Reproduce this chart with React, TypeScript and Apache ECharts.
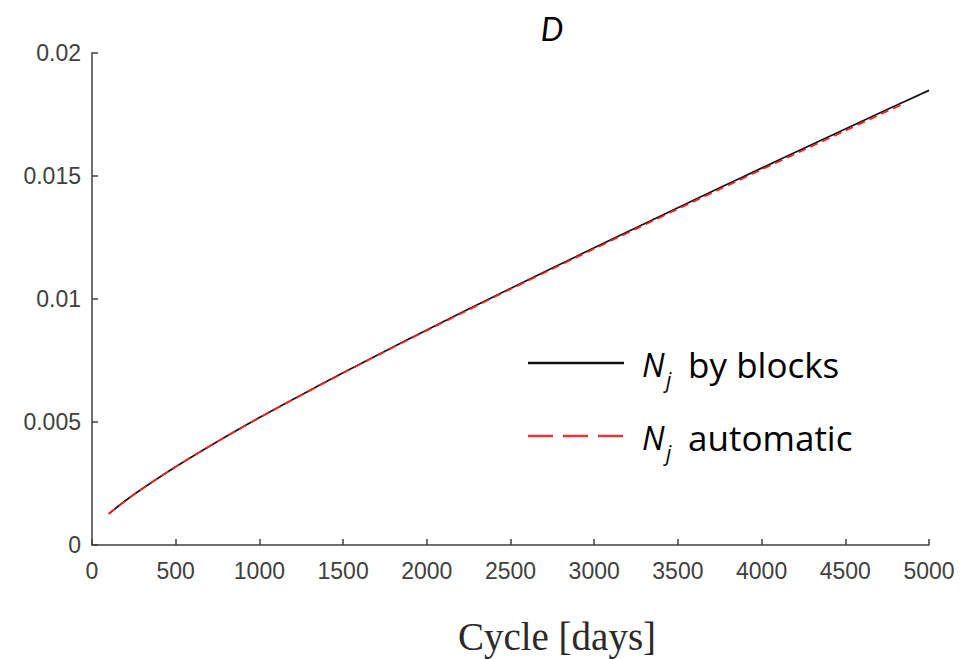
import React, { useEffect, useRef } from "react";
import * as echarts from "echarts";

const titleText = "D";
const xAxisTitle = "Cycle [days]";

const blocksDays = [100, 250, 500, 750, 1000, 1250, 1500, 1750, 2000, 2250, 2500, 2750, 3000, 3250, 3500, 3750, 4000, 4250, 4500, 4750, 5000];
const blocksValues = [0.00127, 0.00205, 0.00318, 0.00421, 0.00518, 0.0061, 0.007, 0.00788, 0.00874, 0.00959, 0.01043, 0.01126, 0.01208, 0.0129, 0.01371, 0.01452, 0.01532, 0.01612, 0.01691, 0.0177, 0.01848];

const automaticDays = [100, 250, 500, 750, 1000, 1250, 1500, 1750, 2000, 2250, 2500, 2750, 3000, 3250, 3500, 3750, 4000, 4250, 4500, 4750, 4850];
const automaticValues = [0.00127, 0.00205, 0.00318, 0.00421, 0.00517, 0.00609, 0.00699, 0.00786, 0.00872, 0.00956, 0.0104, 0.01122, 0.01204, 0.01285, 0.01366, 0.01446, 0.01526, 0.01605, 0.01684, 0.01763, 0.01794];

const seriesNames = ["N_j by blocks", "N_j automatic"];
const legendSymbol = "N";
const legendSub = "j";
const legendRest = [" by blocks", " automatic"];
const seriesColors = ["#111111", "#ff1f1f"];
const legendColors = ["#111111", "#e8353b"];

export default function App() {
  const ref = useRef<HTMLDivElement>(null);
  useEffect(() => {
    if (!ref.current) return;
    const chart = echarts.init(ref.current, null, { renderer: "svg" });
    const tickColor = "#404040";
    const legendY = [363, 436];
    const legendGraphics: any[] = [];
    legendY.forEach((y, i) => {
      legendGraphics.push({
        type: "line",
        shape: { x1: 528, y1: y, x2: 624, y2: y },
        style: {
          stroke: legendColors[i],
          lineWidth: 2.5,
          lineDash: i === 1 ? [25, 10] : null,
        },
      });
      legendGraphics.push({
        type: "text",
        x: 642,
        y: y + 1,
        style: {
          text: legendSymbol,
          font: "italic 32px 'Open Sans'",
          fill: "#000",
          textVerticalAlign: "middle",
        },
      });
      legendGraphics.push({
        type: "text",
        x: 666,
        y: y + 17,
        style: {
          text: legendSub,
          font: "italic 21px 'Open Sans'",
          fill: "#000",
          textVerticalAlign: "middle",
        },
      });
      legendGraphics.push({
        type: "text",
        x: 679,
        y: y + 1,
        style: {
          text: legendRest[i],
          font: "35px 'Open Sans'",
          fill: "#000",
          textVerticalAlign: "middle",
        },
      });
    });

    chart.setOption({
      animation: false,
      backgroundColor: "#ffffff",
      grid: { left: 92, right: 37, top: 53, bottom: 114, containLabel: false },
      xAxis: {
        type: "value",
        min: 0,
        max: 5000,
        interval: 500,
        axisLine: { show: true, lineStyle: { color: tickColor, width: 1.5 } },
        axisTick: { show: true, inside: true, length: 6, lineStyle: { color: tickColor, width: 1.5 } },
        axisLabel: {
          color: tickColor,
          fontSize: 23,
          fontFamily: "Liberation Sans",
          margin: 14,
          formatter: (v: number) => String(v),
        },
        splitLine: { show: false },
      },
      yAxis: {
        type: "value",
        min: 0,
        max: 0.02,
        interval: 0.005,
        axisLine: { show: true, lineStyle: { color: tickColor, width: 1.5 } },
        axisTick: { show: true, inside: true, length: 6, lineStyle: { color: tickColor, width: 1.5 } },
        axisLabel: {
          color: tickColor,
          fontSize: 23,
          fontFamily: "Liberation Sans",
          margin: 11,
          formatter: (v: number) => String(Number(v.toFixed(4))),
        },
        splitLine: { show: false },
      },
      series: [
        {
          name: seriesNames[0],
          type: "line",
          data: blocksDays.map((d, i) => [d, blocksValues[i]]),
          showSymbol: false,
          smooth: 0.3,
          lineStyle: { color: seriesColors[0], width: 1.7 },
          z: 2,
        },
        {
          name: seriesNames[1],
          type: "line",
          data: automaticDays.map((d, i) => [d, automaticValues[i]]),
          showSymbol: false,
          smooth: 0.3,
          lineStyle: { color: seriesColors[1], width: 1.7, type: [8, 5] },
          z: 3,
        },
      ],
      graphic: [
        {
          type: "text",
          x: 552,
          y: 28,
          style: {
            text: titleText,
            font: "italic 32px Lato",
            fill: "#000",
            textAlign: "center",
            textVerticalAlign: "middle",
          },
        },
        {
          type: "text",
          x: 557,
          y: 636,
          style: {
            text: xAxisTitle,
            font: "39px 'Liberation Serif'",
            fill: "#2a2a2a",
            textAlign: "center",
            textVerticalAlign: "middle",
          },
        },
        ...legendGraphics,
      ],
    });
    return () => chart.dispose();
  }, []);
  return (
    <div
      ref={ref}
      style={{ position: "fixed", left: 0, top: 0, width: 966, height: 659, background: "#fff" }}
    />
  );
}
